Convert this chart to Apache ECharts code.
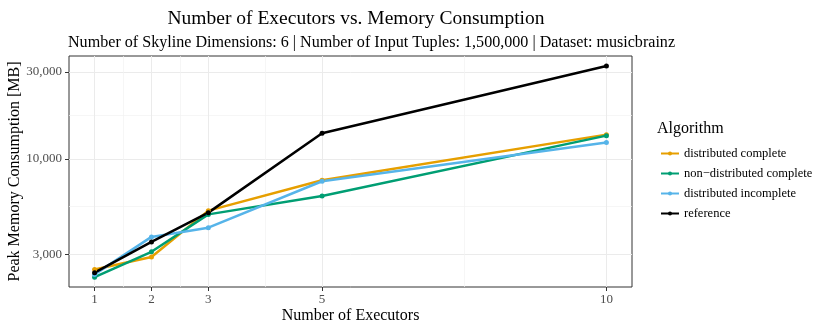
<!DOCTYPE html>
<html>
<head>
<meta charset="utf-8">
<script src="https://cdn.jsdelivr.net/npm/echarts@6/dist/echarts.min.js"></script>
<style>
  html, body { margin: 0; padding: 0; background: #fff; }
  #chart { width: 830px; height: 332px; }
</style>
</head>
<body>
<div id="chart"></div>
<script>
// executors on the x axis
const executors = [1, 2, 3, 5, 10];
// peak memory [MB] per algorithm
const distComplete = [2480, 2900, 5210, 7640, 13600];
const nonDistComplete = [2250, 3100, 4970, 6270, 13430];
const distIncomplete = [2330, 3740, 4200, 7550, 12300];
const reference = [2380, 3510, 5080, 13840, 32370];

const seriesNames = ['distributed complete', 'non\u2212distributed complete', 'distributed incomplete', 'reference'];
const seriesColors = ['#E69F00', '#009E73', '#56B4E9', '#000000'];

const xTicks = [1, 2, 3, 5, 10];
const xMinor = [1.5, 2.5, 4, 7.5];
const yTicks = [3000, 10000, 30000];
const yMinor = [5477, 17321];

const font = 'Liberation Serif, Times New Roman, serif';

var chart = echarts.init(document.getElementById('chart'), null, { renderer: 'canvas' });

const allData = [distComplete, nonDistComplete, distIncomplete, reference];

chart.setOption({
    backgroundColor: '#fff',
    animation: false,
    title: [
        {
            text: 'Number of Executors vs. Memory Consumption',
            left: 351, top: 4, textAlign: 'center',
            textStyle: { fontFamily: font, fontSize: 19.5, fontWeight: 'normal', color: '#000' }
        },
        {
            text: 'Number of Skyline Dimensions: 6 | Number of Input Tuples: 1,500,000 | Dataset: musicbrainz',
            left: 63, top: 30,
            textStyle: { fontFamily: font, fontSize: 16.1, fontWeight: 'normal', color: '#000' }
        },
        {
            text: 'Algorithm',
            left: 652, top: 116,
            textStyle: { fontFamily: font, fontSize: 16, fontWeight: 'normal', color: '#000' }
        }
    ],
    legend: {
        orient: 'vertical',
        left: 655, top: 142,
        itemWidth: 18, itemHeight: 5, itemGap: 7,
        textStyle: { fontFamily: font, fontSize: 12.5, color: '#000' },
        data: seriesNames
    },
    grid: {
        left: 69, right: 198, top: 56, bottom: 45,
        show: true, borderColor: '#333', borderWidth: 1,
        outerBoundsMode: 'none'
    },
    xAxis: [
        {
            type: 'value', min: 0.55, max: 10.45,
            name: 'Number of Executors', nameLocation: 'middle', nameGap: 21,
            nameMoveOverlap: false,
            nameTextStyle: { fontFamily: font, fontSize: 16, color: '#000' },
            axisLine: { show: false },
            axisTick: { show: true, customValues: xTicks, length: 4, lineStyle: { color: '#333' } },
            axisLabel: { customValues: xTicks, margin: 6, fontFamily: font, fontSize: 13, color: '#4d4d4d' },
            splitLine: { show: true, lineStyle: { color: '#ebebeb', width: 1 } }
        },
        {
            type: 'value', min: 0.55, max: 10.45, position: 'bottom',
            axisLine: { show: false },
            axisTick: { show: false, customValues: xMinor },
            axisLabel: { show: false, customValues: xMinor },
            splitLine: { show: true, lineStyle: { color: '#f2f2f2', width: 0.7 } }
        }
    ],
    yAxis: [
        {
            type: 'log', min: 1987, max: 36700,
            name: 'Peak Memory Consumption [MB]', nameLocation: 'middle', nameGap: 46,
            nameMoveOverlap: false,
            nameTextStyle: { fontFamily: font, fontSize: 16, color: '#000' },
            axisLine: { show: false },
            axisTick: { show: true, customValues: yTicks, length: 4, lineStyle: { color: '#333' } },
            axisLabel: {
                customValues: yTicks, margin: 7, fontFamily: font, fontSize: 13, color: '#4d4d4d',
                formatter: v => Math.round(v).toLocaleString('en-US')
            },
            splitLine: { show: true, lineStyle: { color: '#ebebeb', width: 1 } }
        },
        {
            type: 'log', min: 1987, max: 36700, position: 'left',
            axisLine: { show: false },
            axisTick: { show: false, customValues: yMinor },
            axisLabel: { show: false, customValues: yMinor },
            splitLine: { show: true, lineStyle: { color: '#f2f2f2', width: 0.7 } }
        }
    ],
    series: seriesNames.map((name, i) => ({
        name: name,
        type: 'line',
        data: executors.map((x, j) => [x, allData[i][j]]),
        symbol: 'circle',
        symbolSize: 5,
        itemStyle: { color: seriesColors[i] },
        lineStyle: { color: seriesColors[i], width: 2.5 }
    }))
});
</script>
</body>
</html>
